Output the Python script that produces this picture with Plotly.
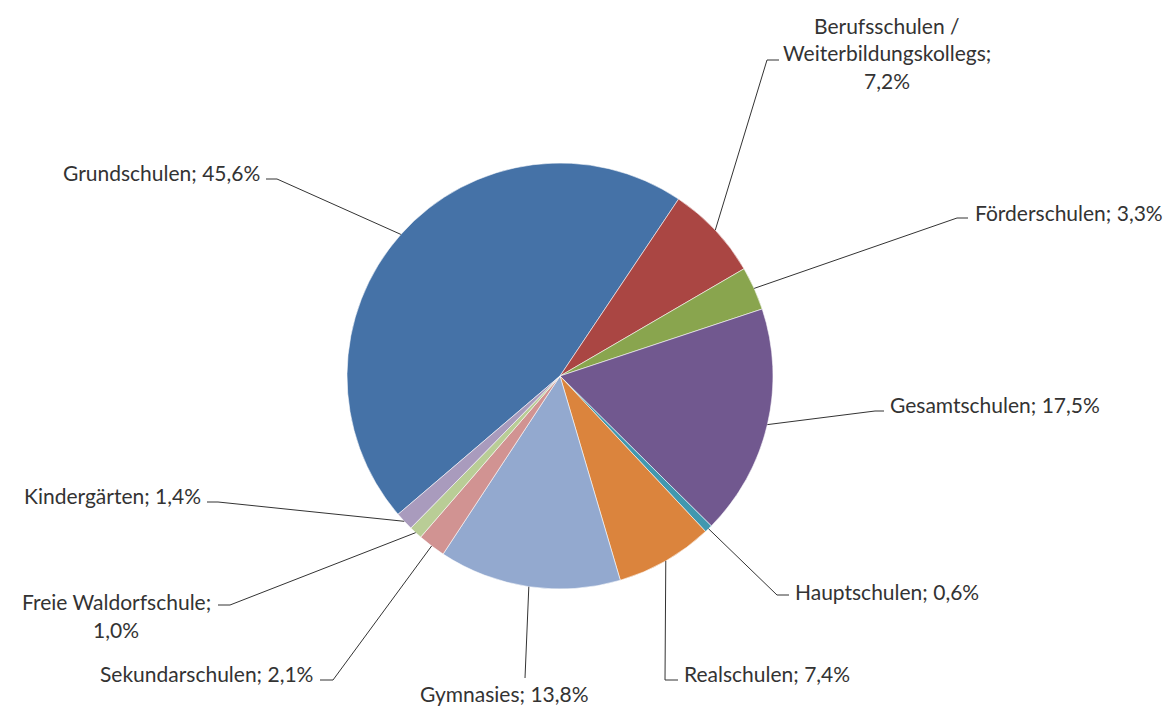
import math
import plotly.graph_objects as go

# ---- data ----
categories = ["Grundschulen", "Berufsschulen / Weiterbildungskollegs", "Förderschulen",
              "Gesamtschulen", "Hauptschulen", "Realschulen", "Gymnasies",
              "Sekundarschulen", "Freie Waldorfschule", "Kindergärten"]
shares = [45.6, 7.2, 3.3, 17.5, 0.6, 7.4, 13.8, 2.1, 1.0, 1.4]
label_texts = ["Grundschulen; 45,6%",
               "Berufsschulen /\nWeiterbildungskollegs;\n7,2%",
               "Förderschulen; 3,3%",
               "Gesamtschulen; 17,5%",
               "Hauptschulen; 0,6%",
               "Realschulen; 7,4%",
               "Gymnasies; 13,8%",
               "Sekundarschulen; 2,1%",
               "Freie Waldorfschule;\n1,0%",
               "Kindergärten; 1,4%"]
colors = ["#4572A7", "#AA4643", "#89A54E", "#71588F", "#4198AF",
          "#DB843D", "#93A9CF", "#D19392", "#B9CD96", "#A99BBD"]

# ---- layout (window pixels, y from top) ----
WIN_W, WIN_H = 1173, 709
OFF = 8                      # page body margin
W, H = WIN_W - OFF, WIN_H - OFF
CX, CY, R = 560, 376, 213
ROTATION = -130.5
LINE_GAP = 28
label_layout = [
    (262, 173, "right", [(277, 179), (266, 179)]),
    (887, 25, "center", [(767, 60), (779, 60)]),
    (973, 212, "left", [(957, 218), (968, 218)]),
    (888, 405, "left", [(875, 411), (884, 411)]),
    (793, 591, "left", [(777, 595), (789, 595)]),
    (682, 673, "left", [(665, 680), (678, 680)]),
    (504, 693, "center", [(525, 678)]),
    (315, 673, "right", [(333, 680), (320, 680)]),
    (116, 601, "center", [(230, 605), (218, 605)]),
    (203, 495, "right", [(218, 502), (207, 502)]),
]
FONT = dict(family="Lato, 'Open Sans', sans-serif", size=21, color="#333333")
LINE_COLOR = "#333333"


def px(x):
    return (x - OFF) / W


def py(y):
    return 1 - (y - OFF) / H


fig = go.Figure(go.Pie(
    labels=categories, values=shares, sort=False, direction="clockwise",
    rotation=ROTATION, textinfo="none", hoverinfo="label+percent",
    marker=dict(colors=colors, line=dict(color="rgba(255,255,255,0.7)", width=0.8)),
    domain=dict(x=[px(CX - R), px(CX + R)], y=[py(CY + R), py(CY - R)]),
    showlegend=False,
))

total = sum(shares)
cum = 0.0
shapes = []
annotations = []
for val, text, (lx, ly, anchor, pts) in zip(shares, label_texts, label_layout):
    mid = ROTATION + (cum + val / 2) / total * 360
    cum += val
    a = math.radians(mid)
    ex, ey = CX + R * math.sin(a), CY - R * math.cos(a)
    path = f"M {px(ex)} {py(ey)}" + "".join(f" L {px(x)} {py(y)}" for x, y in pts)
    shapes.append(dict(type="path", xref="paper", yref="paper", path=path,
                       line=dict(color=LINE_COLOR, width=1)))
    for i, line in enumerate(text.split("\n")):
        annotations.append(dict(x=px(lx), y=py(ly + i * LINE_GAP), xref="paper", yref="paper",
                                text=line, showarrow=False, xanchor=anchor, yanchor="middle",
                                font=FONT))

fig.update_layout(width=W, height=H, margin=dict(l=0, r=0, t=0, b=0),
                  paper_bgcolor="white", plot_bgcolor="white",
                  shapes=shapes, annotations=annotations)
fig.write_html("out.html")
